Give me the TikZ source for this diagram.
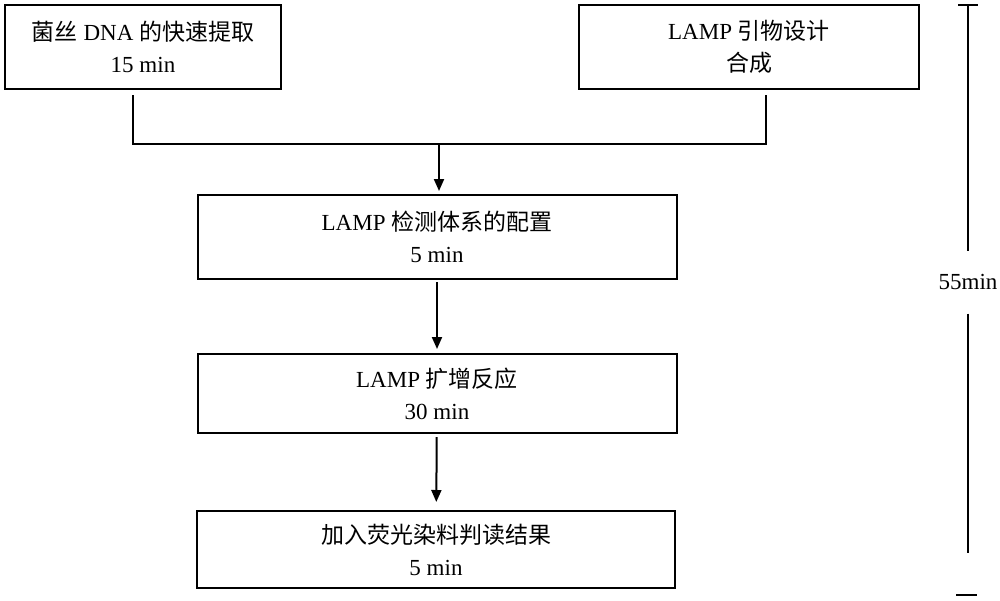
\documentclass[tikz,border=0pt]{standalone}
\usepackage{fontspec}
\setmainfont{Liberation Serif}
\newfontfamily\cjk{Noto Sans CJK SC}
\usepackage{tikz}
\usetikzlibrary{calc, arrows.meta}

\begin{document}
\begin{tikzpicture}[x=0.5pt, y=-0.5pt, line width=1pt,
    stepbox/.style={draw, align=center, inner sep=0pt, minimum height=42pt,
        font=\fontsize{11.5}{16}\selectfont},
    arr/.style={-{Triangle[length=6pt, width=5pt]}}]
    \useasboundingbox (0,0) rectangle (1000,600);
    \node[stepbox, minimum width=138pt] (extract) at (143,47)
        {{\cjk 菌丝} DNA {\cjk 的快速提取}\\15 min};
    \node[stepbox, minimum width=170pt] (primer) at (749,47)
        {LAMP {\cjk 引物设计}\\{\cjk 合成}};
    \node[stepbox, minimum width=239.5pt] (mix) at (437,237)
        {LAMP {\cjk 检测体系的配置}\\5 min};
    \node[stepbox, minimum width=239.5pt, minimum height=39.5pt] (amplify) at (437,393.5)
        {LAMP {\cjk 扩增反应}\\30 min};
    \node[stepbox, minimum width=239pt, minimum height=38.5pt] (readout) at (436,549.5)
        {{\cjk 加入荧光染料判读结果}\\5 min};
    \coordinate (join) at (439,144);
    \draw ($(extract.south)+(-10,5)$) |- (join) -| ($(primer.south)+(17,5)$);
    \draw[arr, shorten >=1.5pt] (join) -- (join |- mix.north);
    \draw[arr, shorten <=1pt, shorten >=2pt] (mix) -- (amplify);
    \draw[arr, shorten <=1.5pt, shorten >=4pt] (amplify) -- (readout);
    \node[font=\fontsize{11.5}{13}\selectfont, minimum height=30.5pt, inner sep=0pt]
        (total) at (968,282) {55min};
    \coordinate (ttop) at (968,5);
    \coordinate (tlow) at (968,553);
    \draw ($(ttop)+(-10,0)$) -- ($(ttop)+(10,0)$);
    \draw (ttop) -- (total.north);
    \draw (total.south) -- (tlow);
    \draw (956,595) -- (977,595);
\end{tikzpicture}
\end{document}
